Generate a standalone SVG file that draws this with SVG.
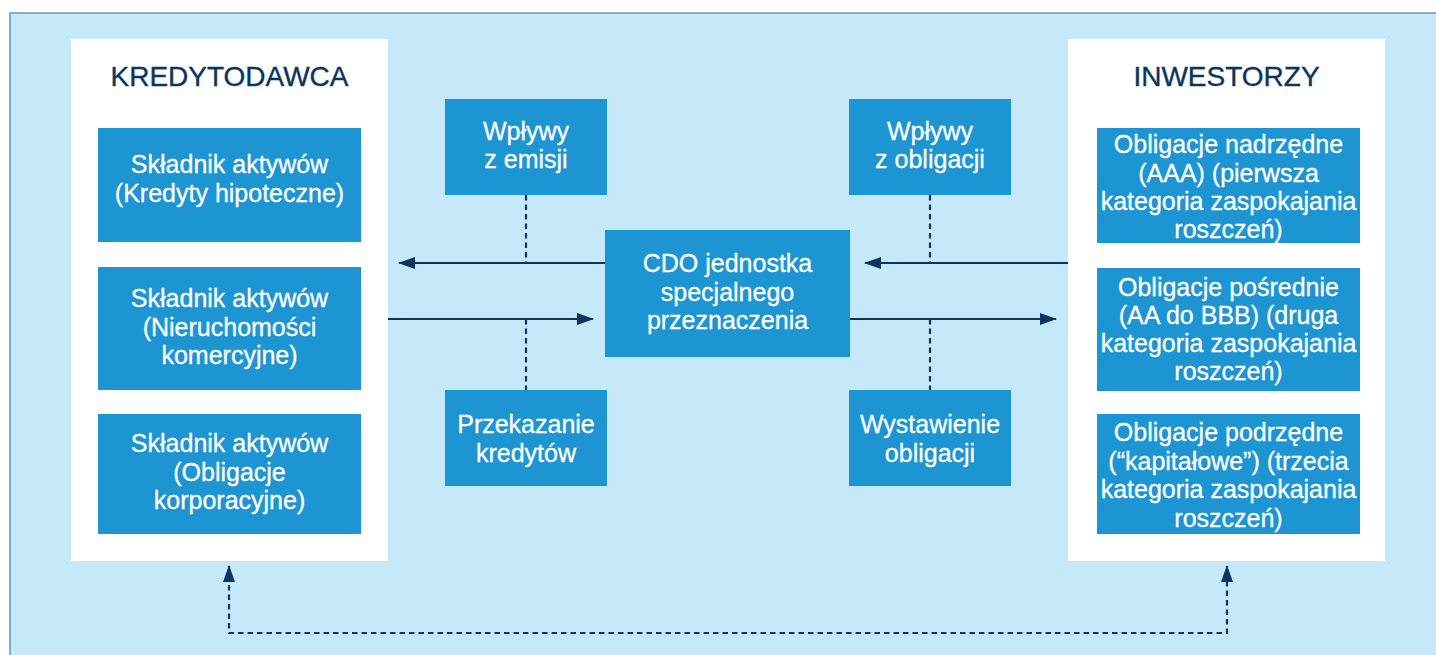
<svg xmlns="http://www.w3.org/2000/svg" width="1436" height="655" viewBox="0 0 1436 655">
  <defs>
    <style>
      .panel { fill: #ffffff; }
      .box { fill: #1E95D3; }
      .t { font-family: "Liberation Sans", Arial, Helvetica, sans-serif; font-size: 25px; fill: #ffffff; stroke: #ffffff; stroke-width: 0.3; text-anchor: middle; }
      .h { font-family: "Liberation Sans", Arial, Helvetica, sans-serif; font-size: 28px; fill: #0B3560; stroke: #0B3560; stroke-width: 0.35; text-anchor: middle; }
      .line { stroke: #0B3560; stroke-width: 2.2; fill: none; }
      .dash { stroke: #0B3560; stroke-width: 2.2; fill: none; stroke-dasharray: 5.5 4; }
    </style>
    <marker id="arr" viewBox="0 0 17 12" refX="16" refY="6" markerWidth="17" markerHeight="12" markerUnits="userSpaceOnUse" orient="auto-start-reverse">
      <path d="M0,0 L17,6 L0,12 z" fill="#0B3560"/>
    </marker>
  </defs>

  <rect x="0" y="0" width="1436" height="655" fill="#ffffff"/>
  <rect x="10" y="13" width="1440" height="660" fill="#C5E9F8" stroke="#6A9EC0" stroke-width="1.6"/>

  <g id="kredytodawca">
    <rect class="panel" x="71" y="39" width="317" height="522"/>
    <text class="h" x="229.5" y="86">KREDYTODAWCA</text>
  </g>
  <g id="aktywa1">
    <rect class="box" x="98" y="128" width="263" height="114"/>
    <text class="t" x="229.5" y="173">Składnik aktywów</text>
    <text class="t" x="229.5" y="202">(Kredyty hipoteczne)</text>
  </g>
  <g id="aktywa2">
    <rect class="box" x="98" y="267" width="263" height="123"/>
    <text class="t" x="229.5" y="307">Składnik aktywów</text>
    <text class="t" x="229.5" y="336">(Nieruchomości</text>
    <text class="t" x="229.5" y="364">komercyjne)</text>
  </g>
  <g id="aktywa3">
    <rect class="box" x="98" y="414" width="263" height="120"/>
    <text class="t" x="229.5" y="452">Składnik aktywów</text>
    <text class="t" x="229.5" y="481">(Obligacje</text>
    <text class="t" x="229.5" y="509">korporacyjne)</text>
  </g>

  <g id="inwestorzy">
    <rect class="panel" x="1068" y="39" width="317" height="522"/>
    <text class="h" x="1226.5" y="86">INWESTORZY</text>
  </g>
  <g id="oblig1">
    <rect class="box" x="1097" y="128" width="263" height="115"/>
    <text class="t" x="1228.5" y="153">Obligacje nadrzędne</text>
    <text class="t" x="1228.5" y="182">(AAA) (pierwsza</text>
    <text class="t" x="1228.5" y="210">kategoria zaspokajania</text>
    <text class="t" x="1228.5" y="238">roszczeń)</text>
  </g>
  <g id="oblig2">
    <rect class="box" x="1097" y="268" width="263" height="123"/>
    <text class="t" x="1228.5" y="296">Obligacje pośrednie</text>
    <text class="t" x="1228.5" y="324">(AA do BBB) (druga</text>
    <text class="t" x="1228.5" y="352">kategoria zaspokajania</text>
    <text class="t" x="1228.5" y="380">roszczeń)</text>
  </g>
  <g id="oblig3">
    <rect class="box" x="1097" y="414" width="263" height="120"/>
    <text class="t" x="1228.5" y="441">Obligacje podrzędne</text>
    <text class="t" x="1228.5" y="470">(“kapitałowe”) (trzecia</text>
    <text class="t" x="1228.5" y="498">kategoria zaspokajania</text>
    <text class="t" x="1228.5" y="527">roszczeń)</text>
  </g>

  <g id="cdo">
    <rect class="box" x="605" y="230" width="245" height="127"/>
    <text class="t" x="727.5" y="272">CDO jednostka</text>
    <text class="t" x="727.5" y="301">specjalnego</text>
    <text class="t" x="727.5" y="329">przeznaczenia</text>
  </g>
  <g id="wplywy-emisji">
    <rect class="box" x="445" y="99" width="162" height="96"/>
    <text class="t" x="526" y="140">Wpływy</text>
    <text class="t" x="526" y="168">z emisji</text>
  </g>
  <g id="przekazanie">
    <rect class="box" x="445" y="390" width="162" height="96"/>
    <text class="t" x="526" y="433">Przekazanie</text>
    <text class="t" x="526" y="462">kredytów</text>
  </g>
  <g id="wplywy-obligacji">
    <rect class="box" x="849" y="99" width="162" height="96"/>
    <text class="t" x="930" y="140">Wpływy</text>
    <text class="t" x="930" y="168">z obligacji</text>
  </g>
  <g id="wystawienie">
    <rect class="box" x="849" y="390" width="162" height="96"/>
    <text class="t" x="930" y="433">Wystawienie</text>
    <text class="t" x="930" y="462">obligacji</text>
  </g>

  <g id="connectors">
    <line class="line" x1="605" y1="263" x2="399" y2="263" marker-end="url(#arr)"/>
    <line class="line" x1="388" y1="319" x2="593" y2="319" marker-end="url(#arr)"/>
    <line class="line" x1="1068" y1="263" x2="865" y2="263" marker-end="url(#arr)"/>
    <line class="line" x1="850" y1="319" x2="1056" y2="319" marker-end="url(#arr)"/>
    <line class="dash" x1="526" y1="195" x2="526" y2="263"/>
    <line class="dash" x1="526" y1="319" x2="526" y2="390"/>
    <line class="dash" x1="930" y1="195" x2="930" y2="263"/>
    <line class="dash" x1="930" y1="319" x2="930" y2="390"/>
    <path class="dash" d="M229,566 V633 H1227 V566" marker-start="url(#arr)" marker-end="url(#arr)"/>
  </g>
</svg>
